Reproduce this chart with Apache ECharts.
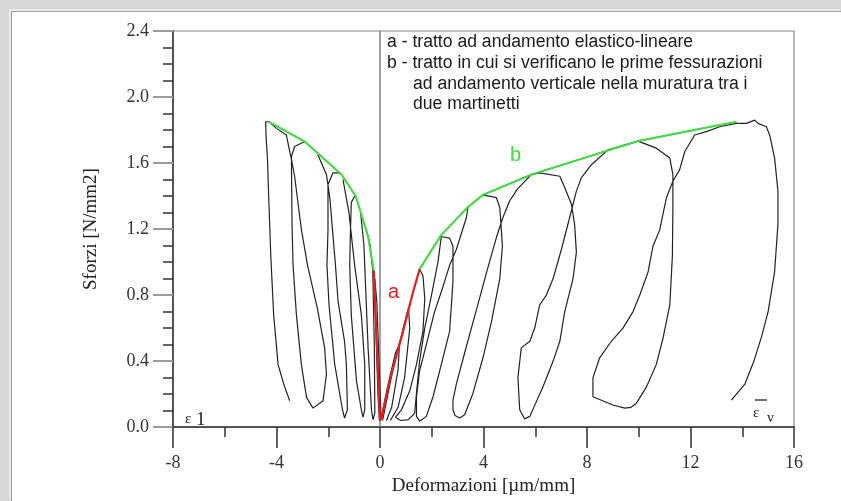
<!DOCTYPE html>
<html>
<head>
<meta charset="utf-8">
<script src="https://cdn.jsdelivr.net/npm/echarts@6/dist/echarts.min.js"></script>
<style>
html,body{margin:0;padding:0;width:841px;height:501px;overflow:hidden;background:#d7d7d7;}
#frame{position:absolute;left:11px;top:11px;width:830px;height:490px;background:#fff;border-left:1px solid #9c9c9c;border-top:1px solid #9c9c9c;box-shadow:-2px -2px 0 #ededed;}
#chart{position:absolute;left:0;top:0;width:841px;height:501px;}
</style>
</head>
<body>
<div id="frame"></div>
<div id="chart"></div>
<script>
// ---- axis ticks ----
const xTicks = [-8, -4, 0, 4, 8, 12, 16];
const yTicks = [0.0, 0.4, 0.8, 1.2, 1.6, 2.0, 2.4];

// ---- envelopes (green, b) ----
const envLeft = [[-4.29,1.85],[-2.91,1.73],[-1.49,1.53],[-0.94,1.40],[-0.46,1.155],[-0.24,0.947]];
const envRight = [[1.53,0.957],[2.37,1.165],[3.40,1.334],[3.98,1.407],[5.85,1.53],[8.88,1.68],[9.97,1.733],[13.77,1.85]];

// ---- elastic-linear branches (red, a) ----
const elasticLeft = [[-0.24,0.947],[-0.12,0.5],[0.0,0.04]];
const elasticRight = [[0.05,0.045],[0.37,0.28],[0.89,0.58],[1.28,0.82],[1.53,0.957]];

// ---- left loops (epsilon 1) ----
const loopL1 = [[-3.62,1.77],[-4.0,1.81],[-4.29,1.85],[-4.42,1.85],[-4.40,1.75],[-4.35,1.63],[-4.30,1.39],[-4.22,1.035],[-4.11,0.68],[-3.94,0.38],[-3.72,0.26],[-3.49,0.16]];
const loopL2 = [[-2.91,1.73],[-3.30,1.70],[-3.42,1.64],[-3.42,1.56],[-3.40,1.23],[-3.36,0.98],[-3.23,0.68],[-3.04,0.38],[-2.84,0.18],[-2.59,0.115],[-2.20,0.16],[-2.07,0.32],[-2.14,0.48],[-2.42,0.72],[-2.80,0.98],[-3.04,1.2],[-3.30,1.52],[-3.42,1.62],[-3.49,1.67],[-3.62,1.77]];
const loopL3 = [[-1.52,1.54],[-1.82,1.54],[-2.01,1.47],[-2.01,1.195],[-2.05,0.98],[-1.97,0.74],[-1.75,0.38],[-1.45,0.105],[-1.37,0.055],[-1.26,0.105],[-1.30,0.38],[-1.37,0.52],[-1.62,0.76],[-1.72,0.98],[-1.94,1.39],[-2.07,1.53],[-2.40,1.65]];
const loopL4 = [[-0.98,1.40],[-1.11,1.36],[-1.14,1.2],[-1.17,0.98],[-1.11,0.68],[-0.91,0.28],[-0.72,0.105],[-0.66,0.06],[-0.59,0.105],[-0.59,0.38],[-0.72,0.68],[-0.98,0.98],[-1.20,1.3],[-1.43,1.50]];
const loopL5 = [[-0.75,1.30],[-0.62,1.1],[-0.59,0.98],[-0.46,0.48],[-0.33,0.105],[-0.27,0.045],[-0.2,0.085],[-0.22,0.5],[-0.28,0.95],[-0.38,1.10],[-0.46,1.155]];
const loopL6 = [[-0.24,0.947],[-0.16,0.6],[-0.08,0.2],[-0.02,0.04],[0.04,0.06],[-0.04,0.4],[-0.12,0.75],[-0.2,0.9]];

// ---- right loops (epsilon v) ----
const loopS1 = [[0.02,0.04],[0.3,0.25],[0.6,0.45],[0.75,0.5],[0.7,0.35],[0.45,0.12],[0.25,0.04]];
const loopS2 = [[0.1,0.04],[0.5,0.35],[0.9,0.6],[1.1,0.72],[1.15,0.6],[0.95,0.3],[0.7,0.12],[0.4,0.04]];
const loopR1 = [[1.53,0.957],[1.66,0.917],[1.73,0.78],[1.66,0.58],[1.41,0.38],[1.15,0.22],[0.83,0.105],[0.6,0.06],[0.8,0.04],[1.1,0.045],[1.34,0.085],[1.41,0.204],[1.53,0.40],[1.73,0.60],[1.99,0.80],[2.24,1.0],[2.37,1.155]];
const loopR2 = [[2.37,1.155],[2.69,1.145],[2.82,1.096],[2.82,0.88],[2.69,0.58],[2.37,0.38],[2.05,0.184],[1.79,0.065],[1.53,0.036],[1.41,0.065],[1.41,0.184],[1.53,0.34],[1.79,0.50],[2.11,0.70],[2.37,0.82],[2.69,0.98],[2.95,1.076],[3.34,1.27],[3.40,1.334],[3.98,1.407]];
const loopR3 = [[3.98,1.407],[4.50,1.39],[4.63,1.33],[4.69,1.195],[4.73,1.096],[4.63,0.90],[4.31,0.64],[3.98,0.42],[3.59,0.204],[3.27,0.075],[3.08,0.055],[2.9,0.07],[2.82,0.105],[2.82,0.164],[2.95,0.26],[3.34,0.49],[3.76,0.73],[4.14,0.95],[4.50,1.15],[4.75,1.27],[5.01,1.37],[5.3,1.44],[5.66,1.50],[5.85,1.53]];
const loopR4 = [[5.85,1.53],[6.17,1.54],[6.95,1.52],[7.14,1.45],[7.40,1.35],[7.52,1.23],[7.59,1.06],[7.46,0.90],[7.14,0.70],[6.95,0.52],[6.69,0.40],[6.30,0.244],[5.79,0.065],[5.59,0.05],[5.40,0.105],[5.33,0.30],[5.46,0.48],[5.79,0.52],[5.98,0.60],[6.17,0.74],[6.43,0.80],[6.69,0.90],[7.01,1.076],[7.33,1.27],[7.59,1.43],[7.78,1.51],[8.17,1.59],[8.81,1.68],[9.97,1.733]];
const loopR5 = [[9.97,1.733],[10.68,1.69],[11.20,1.63],[11.32,1.53],[11.32,1.33],[11.30,1.036],[11.20,0.74],[10.94,0.54],[10.68,0.38],[10.30,0.244],[9.91,0.145],[9.70,0.12],[9.46,0.115],[9.0,0.134],[8.23,0.184],[8.23,0.30],[8.49,0.42],[8.94,0.52],[9.39,0.60],[9.78,0.70],[10.04,0.80],[10.36,0.94],[10.55,1.096],[10.81,1.195],[11.07,1.39],[11.32,1.49],[11.58,1.56],[11.78,1.67],[12.16,1.77],[12.61,1.79],[13.13,1.82],[13.77,1.84],[14.16,1.84],[14.48,1.86],[14.61,1.84],[14.93,1.82],[15.06,1.77],[15.25,1.63],[15.38,1.43],[15.38,1.23],[15.25,0.94],[15.0,0.70],[14.75,0.55],[14.45,0.40],[14.1,0.26],[13.58,0.164]];

const zeroLine = [[0,0],[0,2.4]];

const legendLines = [
  'a - tratto ad andamento elastico-lineare',
  'b - tratto in cui si verificano le prime fessurazioni',
  'ad andamento verticale nella muratura tra i',
  'due martinetti'
];

const blackLoops = [loopL1, loopL2, loopL3, loopL4, loopL5, loopL6, loopS1, loopS2, loopR1, loopR2, loopR3, loopR4, loopR5, envLeft, envRight];

const chart = echarts.init(document.getElementById('chart'), null, {renderer: 'canvas', width: 841, height: 501});

const series = [];
series.push({type:'line', data: zeroLine, showSymbol:false, silent:true, lineStyle:{color:'#808080', width:1.5}, z:1});
blackLoops.forEach(d => series.push({type:'line', data:d, showSymbol:false, silent:true, lineStyle:{color:'#222', width:1.2}, z:2}));
series.push({type:'line', data: envLeft, showSymbol:false, lineStyle:{color:'#3ee03e', width:2}, z:3});
series.push({type:'line', data: envRight, showSymbol:false, lineStyle:{color:'#3ee03e', width:2}, z:3});
series.push({type:'line', data: elasticLeft, showSymbol:false, lineStyle:{color:'#e81e1e', width:2.2}, z:4});
series.push({type:'line', data: elasticRight, showSymbol:false, lineStyle:{color:'#e81e1e', width:2.2}, z:4});

const serif = '"Liberation Serif", "Times New Roman", serif';
const sans = '"Liberation Sans", Arial, sans-serif';

function txt(s, x, y, font, fill) {
  return {type:'text', x:x, y:y, style:{text:s, font:font, fill:fill, textVerticalAlign:'middle', verticalAlign:'middle'}};
}

chart.setOption({
  animation: false,
  backgroundColor: 'transparent',
  grid: {left:173, top:31, width:621, height:403, show:true, borderColor:'#8a8a8a', borderWidth:1.2, backgroundColor:'transparent'},
  xAxis: {
    type:'value', min: xTicks[0], max: xTicks[xTicks.length-1], interval: 4,
    name: 'Deformazioni [\u00b5m/mm]', nameLocation:'middle', nameGap:47,
    nameTextStyle:{fontFamily:serif, fontSize:19, color:'#222'},
    axisLine:{show:true, onZero:false, lineStyle:{color:'#333', width:1.5}},
    axisTick:{show:true, inside:false, length:21, lineStyle:{color:'#333', width:1.5}},
    minorTick:{show:true, splitNumber:2, length:10, lineStyle:{color:'#333', width:1.5}},
    axisLabel:{fontFamily:serif, fontSize:18, color:'#333', margin:27},
    splitLine:{show:false}, minorSplitLine:{show:false}
  },
  yAxis: {
    type:'value', min: yTicks[0], max: yTicks[yTicks.length-1], interval: 0.4,
    name: 'Sforzi [N/mm2]', nameLocation:'middle', nameGap:72, nameRotate:90,
    nameTextStyle:{fontFamily:serif, fontSize:19, color:'#222'},
    axisLine:{show:true, onZero:false, lineStyle:{color:'#333', width:1.5}},
    axisTick:{show:true, inside:false, length:20, lineStyle:{color:'#9a9a9a', width:2}},
    minorTick:{show:true, splitNumber:4, length:10, lineStyle:{color:'#333', width:1.5}},
    axisLabel:{fontFamily:serif, fontSize:18, color:'#333', margin:24, formatter: v => v.toFixed(1)},
    splitLine:{show:false}, minorSplitLine:{show:false}
  },
  series: series,
  graphic: [
    txt(legendLines[0], 387, 42, '17.6px '+sans, '#1a1a1a'),
    txt(legendLines[1], 387, 63, '17.6px '+sans, '#1a1a1a'),
    txt(legendLines[2], 413, 84, '17.6px '+sans, '#1a1a1a'),
    txt(legendLines[3], 413, 104, '17.6px '+sans, '#1a1a1a'),
    txt('a', 388, 292, '20px '+sans, '#e81e1e'),
    txt('b', 510, 155, '20px '+sans, '#3ee03e'),
    txt('\u03b5', 185, 419, '15px '+serif, '#222'),
    txt('1', 196, 420, '19px '+serif, '#222'),
    txt('\u03b5', 753, 413, '15px '+serif, '#222'),
    {type:'line', shape:{x1:755, y1:400, x2:767, y2:400}, style:{stroke:'#222', lineWidth:1.3}},
    txt('v', 767, 418, '14px '+serif, '#222')
  ]
});
</script>
</body>
</html>
